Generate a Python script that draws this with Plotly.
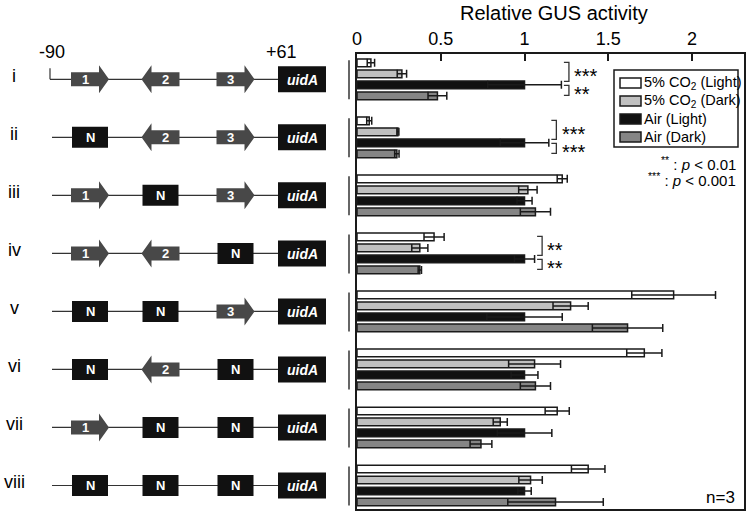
import plotly.graph_objects as go

W, H = 747, 512
FONT = "Liberation Sans"

# construct names and their three promoter elements (1,2,3 = motifs, N = replaced)
groups = ["i", "ii", "iii", "iv", "v", "vi", "vii", "viii"]
constructs = [
    ["1", "2", "3"],
    ["N", "2", "3"],
    ["1", "N", "3"],
    ["1", "2", "N"],
    ["N", "N", "3"],
    ["N", "2", "N"],
    ["1", "N", "N"],
    ["N", "N", "N"],
]

series_names = ["5% CO<sub>2</sub> (Light)", "5% CO<sub>2</sub> (Dark)", "Air (Light)", "Air (Dark)"]
co2_light = [0.083, 0.073, 1.225, 0.46, 1.89, 1.715, 1.195, 1.38]
co2_light_err = [0.022, 0.015, 0.03, 0.06, 0.25, 0.105, 0.072, 0.10]
co2_dark = [0.268, 0.244, 1.02, 0.375, 1.275, 1.06, 0.855, 1.036]
co2_dark_err = [0.028, 0.006, 0.055, 0.048, 0.105, 0.155, 0.042, 0.07]
air_light = [1, 1, 1, 1, 1, 1, 1, 1]
air_light_err = [0.22, 0.145, 0.045, 0.06, 0.225, 0.08, 0.163, 0.04]
air_dark = [0.48, 0.238, 1.065, 0.375, 1.615, 1.065, 0.74, 1.185]
air_dark_err = [0.056, 0.013, 0.09, 0.01, 0.21, 0.09, 0.065, 0.285]

# significance marks: group index -> (upper bracket, lower bracket)
significance = {0: ("***", "**"), 1: ("***", "***"), 3: ("**", "**")}

colors = ["#ffffff", "#c0c0c0", "#111111", "#858585"]
EDGE = "#1a1a1a"

# plot area in pixels
LEFT, RIGHT, TOP, BOTTOM = 357, 744, 54, 509
X_RANGE = [0, 2.31]
Y_RANGE = [7.405, -0.436]


def px(x):
    return x / W


def py(y):
    return 1 - y / H


def row_y(g):
    # pixel row centre of group g, same mapping as the bar axis
    return TOP + (g - Y_RANGE[1]) / (Y_RANGE[0] - Y_RANGE[1]) * (BOTTOM - TOP)


def text(x, y, s, size, color="black", xanchor="center", **kw):
    return dict(x=px(x), y=py(y), xref="paper", yref="paper", text=s, showarrow=False,
                xanchor=xanchor, yanchor="middle", font=dict(family=FONT, size=size, color=color), **kw)


fig = go.Figure()
pos = list(range(len(groups)))
for name, vals, errs, col in zip(
        series_names,
        [co2_light, co2_dark, air_light, air_dark],
        [co2_light_err, co2_dark_err, air_light_err, air_dark_err],
        colors):
    fig.add_bar(y=pos, x=vals, orientation="h", name=name, showlegend=False,
                marker=dict(color=col, line=dict(color=EDGE, width=1.5)),
                error_x=dict(type="data", array=errs, visible=True, color=EDGE,
                             thickness=1.5, width=4))

shapes = []
annotations = []

# ---- left-hand construct diagrams ----
slot_x = [90, 160.5, 235.5]
arrow_dir = {"1": 1, "2": -1, "3": 1}
for g, elems in enumerate(constructs):
    y = row_y(g)
    x_start = 50 if g == 0 else 52
    shapes.append(dict(type="line", xref="paper", yref="paper", x0=px(x_start), x1=px(280),
                       y0=py(y), y1=py(y), line=dict(color="#333333", width=1.2)))
    if g == 0:
        shapes.append(dict(type="line", xref="paper", yref="paper", x0=px(50), x1=px(50),
                           y0=py(y - 11), y1=py(y), line=dict(color="#333333", width=1.2)))
    for cx, e in zip(slot_x, elems):
        if e == "N":
            shapes.append(dict(type="rect", xref="paper", yref="paper",
                               x0=px(cx - 18), x1=px(cx + 18), y0=py(y - 10.5), y1=py(y + 10.5),
                               fillcolor="#111111", line=dict(width=0)))
            annotations.append(text(cx, y + 0.5, "<b>N</b>", 13, "white"))
        else:
            d = arrow_dir[e]
            tail, base, tip = cx - 19 * d, cx + 9 * d, cx + 19 * d
            pts = [(tail, y - 7), (base, y - 7), (base, y - 14), (tip, y), (base, y + 14),
                   (base, y + 7), (tail, y + 7)]
            path = "M " + " L ".join(f"{px(a):.5f},{py(b):.5f}" for a, b in pts) + " Z"
            shapes.append(dict(type="path", xref="paper", yref="paper", path=path,
                               fillcolor="#484848", line=dict(width=0)))
            annotations.append(text((tail + base) / 2, y + 0.5, f"<b>{e}</b>", 13, "white"))
    shapes.append(dict(type="rect", xref="paper", yref="paper", x0=px(278), x1=px(326),
                       y0=py(y - 13), y1=py(y + 13), fillcolor="#111111", line=dict(width=0)))
    annotations.append(text(302, y + 0.5, "<b><i>uidA</i></b>", 14, "white"))
    annotations.append(text(14, y - 3, groups[g], 18))
    # group marker line just left of the chart
    shapes.append(dict(type="line", xref="paper", yref="paper", x0=px(349), x1=px(349),
                       y0=py(y - 19), y1=py(y + 20), line=dict(color="#333333", width=1.5)))

annotations.append(text(52, 52, "-90", 18))
annotations.append(text(281, 52, "+61", 18))

# ---- significance brackets ----
arm = 0.03
for g, (upper, lower) in significance.items():
    xb = air_light[g] + air_light_err[g] + 0.045
    c = row_y(g)
    for (y0, y1), label in [((c - 17, c + 2), upper), ((c + 6, c + 16), lower)]:
        path = (f"M {xb - arm},{py(y0):.5f} L {xb},{py(y0):.5f} L {xb},{py(y1):.5f} "
                f"L {xb - arm},{py(y1):.5f}")
        shapes.append(dict(type="path", xref="x", yref="paper", path=path,
                           line=dict(color="#333333", width=1.3)))
        annotations.append(dict(x=xb + 0.02, y=py((y0 + y1) / 2), xref="x", yref="paper", text=label,
                                xanchor="left", yanchor="middle", yshift=-4, showarrow=False,
                                font=dict(family=FONT, size=20, color="black")))

# ---- legend ----
shapes.append(dict(type="rect", xref="paper", yref="paper", x0=px(614), x1=px(738), y0=py(70), y1=py(147),
                   fillcolor="white", line=dict(color=EDGE, width=1.5)))
for k, (name, col) in enumerate(zip(series_names, colors)):
    yc = 83 + 18 * k
    shapes.append(dict(type="rect", xref="paper", yref="paper", x0=px(620), x1=px(641),
                       y0=py(yc - 5), y1=py(yc + 5), fillcolor=col, line=dict(color=EDGE, width=1.5)))
    annotations.append(text(642, yc, name, 14.5, xanchor="left"))

annotations.append(text(738, 163, "<sup>**</sup> : <i>p</i> &lt; 0.01", 15, xanchor="right"))
annotations.append(text(738, 179, "<sup>***</sup> : <i>p</i> &lt; 0.001", 15, xanchor="right"))
annotations.append(text(737, 497, "n=3", 17, xanchor="right"))
annotations.append(text(554, 13, "Relative GUS activity", 20))

fig.update_layout(
    width=W, height=H,
    margin=dict(l=0, r=0, t=0, b=0, pad=0),
    paper_bgcolor="white", plot_bgcolor="white",
    barmode="group", bargap=0.242, bargroupgap=0.3,
    font=dict(family=FONT, color="black"),
    shapes=shapes, annotations=annotations,
    xaxis=dict(domain=[px(LEFT), px(RIGHT)], range=X_RANGE, side="top",
               tickvals=[0, 0.5, 1, 1.5, 2], ticktext=["0", "0.5", "1", "1.5", "2"],
               ticks="inside", ticklen=7, tickwidth=1.5, tickcolor=EDGE,
               tickfont=dict(family=FONT, size=18, color="black"),
               showline=True, mirror=True, linecolor=EDGE, linewidth=1.5,
               showgrid=False, zeroline=False, automargin=False),
    yaxis=dict(domain=[py(BOTTOM), py(TOP)], range=Y_RANGE, showticklabels=False, ticks="",
               showline=True, mirror=True, linecolor=EDGE, linewidth=1.5,
               showgrid=False, zeroline=False, automargin=False),
)

# drop the browser's default page margin so the figure fills the window exactly
fig.write_html("out.html", config={"displayModeBar": False},
               post_script="document.body.style.margin='0';")
